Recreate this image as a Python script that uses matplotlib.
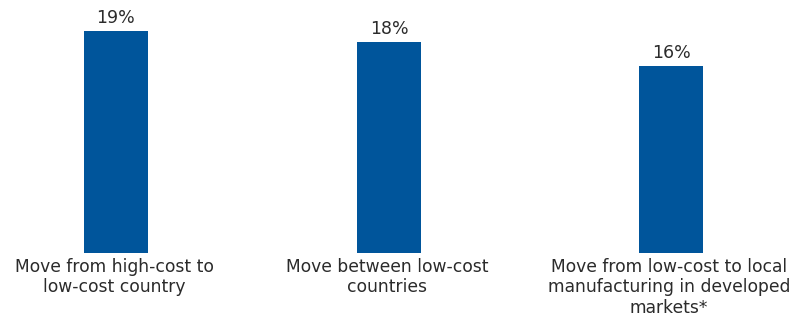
import matplotlib
matplotlib.use("Agg")
import matplotlib.pyplot as plt

categories = ["Move from high-cost to\nlow-cost country",
              "Move between low-cost\ncountries",
              "Move from low-cost to local\nmanufacturing in developed\nmarkets*"]
values = [19, 18, 16]
value_labels = ["19%", "18%", "16%"]

positions = [0, 0.985, 2]
bar_color = "#00559B"
text_color = "#2b2b2b"

plt.rcParams['font.family'] = ['DejaVu Sans']

fig = plt.figure(figsize=(7.99, 3.2), dpi=100)
ax = fig.add_axes([0, 67.5 / 320, 1, 252.5 / 320])
px_per_unit = 11.68
spacing = 277.5
ax.set_xlim(-116 / spacing, (799 - 116) / spacing)
ax.set_ylim(0, 252.5 / px_per_unit)
ax.bar(positions, values, width=64 / spacing, color=bar_color)
ax.axis("off")

for x, v, lab, cat in zip(positions, values, value_labels, categories):
    ax.annotate(lab, (x, v), xytext=(0, 8), textcoords="offset pixels",
                ha="center", va="baseline", fontsize=12.5, color=text_color)
    ax.annotate(cat, (x, 0), xytext=(-2, -5), textcoords="offset pixels",
                ha="center", va="top", fontsize=12.3, color=text_color,
                linespacing=1.2, annotation_clip=False)

fig.savefig("out.png", dpi=100)
